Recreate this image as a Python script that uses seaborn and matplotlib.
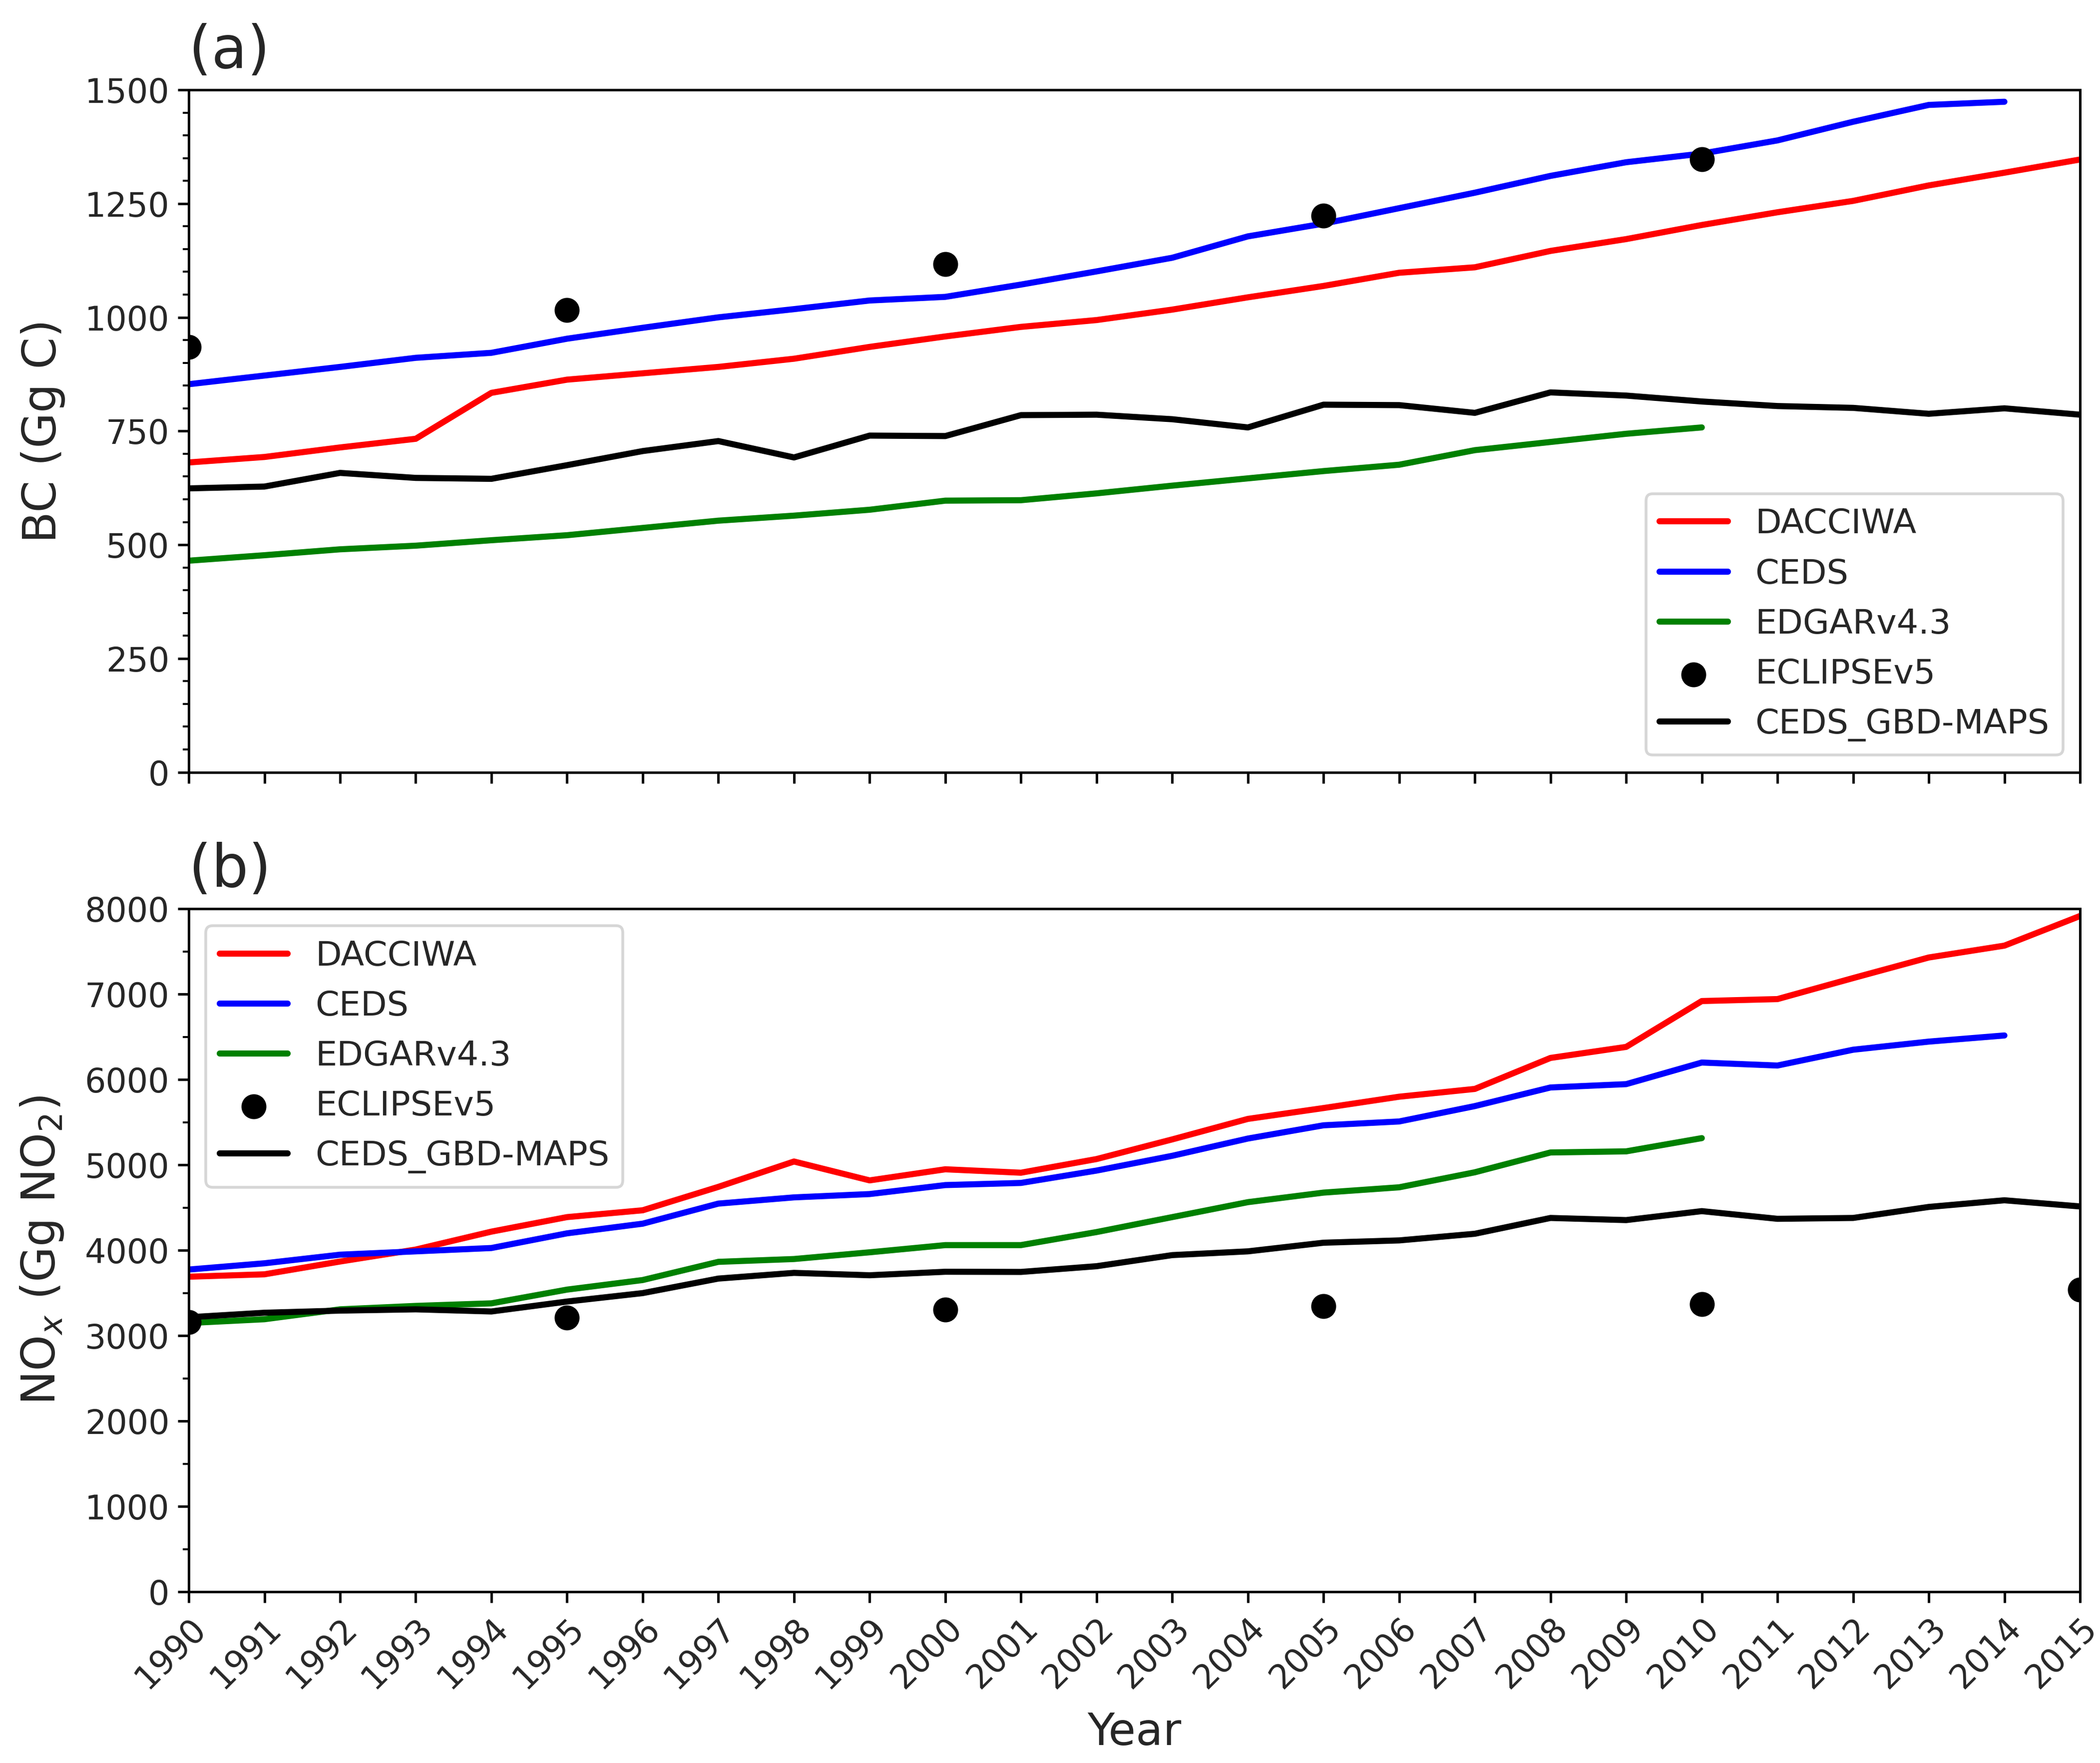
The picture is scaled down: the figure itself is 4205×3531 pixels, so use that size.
import numpy as np
import matplotlib
matplotlib.use("Agg")
import matplotlib.pyplot as plt
from matplotlib.ticker import MultipleLocator
import seaborn as sns

years = list(range(1990, 2016))
years_ceds = list(range(1990, 2015))
years_edgar = list(range(1990, 2011))
years_eclipse = [1990, 1995, 2000, 2005, 2010, 2015]

# (a) BC emissions, Gg C
bc_dacciwa = [681, 693, 714, 733, 834, 863, 877, 891, 909, 935, 958, 979, 994,
              1017, 1044, 1069, 1098, 1110, 1146, 1172, 1203, 1231, 1256, 1290, 1318, 1347]
bc_ceds = [853, 872, 891, 911, 922, 953, 977, 1000, 1018, 1037, 1045, 1072, 1101,
           1131, 1178, 1206, 1240, 1274, 1311, 1341, 1360, 1389, 1430, 1467, 1474]
bc_edgar = [465, 477, 490, 498, 510, 521, 537, 553, 564, 577, 597, 598, 613,
            630, 646, 662, 676, 708, 726, 744, 758]
bc_eclipse = [935, 1016, 1117, 1224, 1347]
bc_gbd = [624, 628, 658, 647, 645, 675, 706, 728, 692, 740, 739, 785, 786,
          776, 758, 808, 807, 790, 835, 828, 815, 805, 801, 788, 800, 786]

# (b) NOx emissions, Gg NO2
nox_dacciwa = [3692, 3720, 3870, 4010, 4220, 4390, 4470, 4744, 5041, 4820, 4950, 4910, 5070,
               5300, 5540, 5667, 5800, 5891, 6254, 6383, 6920, 6943, 7189, 7430, 7569, 7916]
nox_ceds = [3776, 3849, 3950, 3989, 4028, 4200, 4313, 4548, 4621, 4660, 4765, 4790, 4935,
            5108, 5310, 5465, 5510, 5690, 5908, 5947, 6200, 6165, 6350, 6445, 6517]
nox_edgar = [3150, 3194, 3310, 3350, 3380, 3541, 3653, 3866, 3899, 3978, 4062, 4062, 4215,
             4390, 4565, 4677, 4739, 4915, 5147, 5160, 5315]
nox_eclipse = [3161, 3210, 3306, 3345, 3373, 3541]
nox_gbd = [3217, 3270, 3295, 3310, 3285, 3401, 3500, 3670, 3737, 3709, 3750, 3748, 3815,
           3945, 3989, 4090, 4117, 4195, 4380, 4355, 4460, 4370, 4380, 4509, 4587, 4515]

sns.set_style("ticks")
plt.rcParams["font.family"] = ["DejaVu Sans"]

DPI = 400
fig = plt.figure(figsize=(4205 / DPI, 3531 / DPI), dpi=DPI)
ax1 = fig.add_axes([0.0899, 0.562, 0.9006, 0.387])
ax2 = fig.add_axes([0.0899, 0.097, 0.9006, 0.3875])

lw = 2.2


def draw(ax, dac, ceds, edgar, ecl, gbd):
    sns.lineplot(x=years, y=dac, color="red", lw=lw, label="DACCIWA", ax=ax)
    sns.lineplot(x=years_ceds, y=ceds, color="blue", lw=lw, label="CEDS", ax=ax)
    sns.lineplot(x=years_edgar, y=edgar, color="green", lw=lw, label="EDGARv4.3", ax=ax)
    ecl_years = years_eclipse[:len(ecl)]
    sns.scatterplot(x=ecl_years, y=ecl, color="black", s=72, edgecolor="black",
                    linewidth=0.5, label="ECLIPSEv5", ax=ax, zorder=3)
    sns.lineplot(x=years, y=gbd, color="black", lw=lw, label="CEDS_GBD-MAPS", ax=ax)
    ax.set_xlim(1990, 2015)
    ax.set_xticks(years)
    for s in ax.spines.values():
        s.set_visible(True)
        s.set_linewidth(0.9)
        s.set_color("black")
    ax.tick_params(axis="both", which="major", length=4, width=0.9, labelsize=12,
                   direction="out", color="black", pad=3)
    ax.tick_params(axis="y", which="minor", length=2.2, width=0.7, color="black")


draw(ax1, bc_dacciwa, bc_ceds, bc_edgar, bc_eclipse, bc_gbd)
ax1.set_ylim(0, 1500)
ax1.yaxis.set_major_locator(MultipleLocator(250))
ax1.yaxis.set_minor_locator(MultipleLocator(50))
ax1.set_xticklabels([])
ax1.set_xlabel("")
ax1.set_ylabel("BC (Gg C)", fontsize=16.5, labelpad=7)
ax1.set_title("(a)", loc="left", fontsize=21, pad=8)
ax1.legend(loc="lower right", fontsize=12.3, frameon=True, fancybox=True,
           edgecolor="#cccccc", framealpha=0.8)

draw(ax2, nox_dacciwa, nox_ceds, nox_edgar, nox_eclipse, nox_gbd)
ax2.set_ylim(0, 8000)
ax2.yaxis.set_major_locator(MultipleLocator(1000))
ax2.yaxis.set_minor_locator(MultipleLocator(500))
ax2.set_xticklabels([str(y) for y in years], rotation=45, ha="right",
                    rotation_mode="anchor")
ax2.set_xlabel("Year", fontsize=16, labelpad=6)
ax2.set_ylabel("NO$_x$ (Gg NO$_2$)", fontsize=16.5, labelpad=7)
ax2.set_title("(b)", loc="left", fontsize=21, pad=8)
ax2.legend(loc="upper left", fontsize=12.3, frameon=True, fancybox=True,
           edgecolor="#cccccc", framealpha=0.8)

fig.savefig("out.png", dpi=DPI)
